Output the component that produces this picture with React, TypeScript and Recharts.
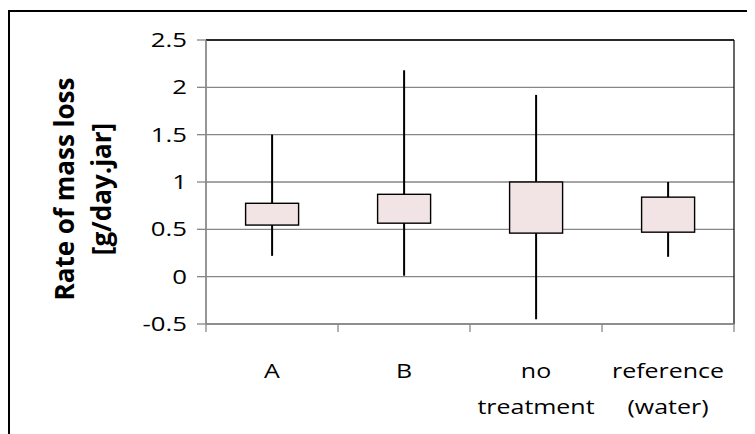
import {
  ComposedChart,
  Bar,
  XAxis,
  YAxis,
  CartesianGrid,
  ReferenceLine,
} from "recharts";

const categories = ["A", "B", "no treatment", "reference (water)"];
const mins = [0.22, 0.01, -0.45, 0.21];
const q1s = [0.545, 0.565, 0.46, 0.47];
const q3s = [0.775, 0.87, 1.0, 0.84];
const maxs = [1.5, 2.18, 1.92, 1.0];
const yTicks = [-0.5, 0, 0.5, 1, 1.5, 2, 2.5];
// category edges (whole numbers) and centres (halves)
const xTicks = [0, 0.5, 1, 1.5, 2, 2.5, 3, 3.5, 4];

const data = categories.map((name, i) => ({
  name,
  pos: i + 0.5,
  min: mins[i],
  q1: q1s[i],
  q3: q3s[i],
  max: maxs[i],
}));

const FONT = "'Open Sans', sans-serif";
const GREY = "#878787";

const YTick = (props: any) => {
  const { x, y, payload } = props;
  return (
    <g transform={`translate(${x},${y})`}>
      <line x1={10} x2={19} y1={0} y2={0} stroke={GREY} strokeWidth={1.3} />
      <text
        x={0}
        y={0}
        dy={7}
        textAnchor="end"
        fontFamily={FONT}
        fontSize={19.5}
        fill="#000"
        transform="scale(1.32,1)"
      >
        {payload.value}
      </text>
    </g>
  );
};

const XTick = (props: any) => {
  const { x, y, payload } = props;
  const v = payload.value;
  if (Number.isInteger(v)) {
    return <line x1={x} x2={x} y1={y} y2={y + 8} stroke={GREY} strokeWidth={1.3} />;
  }
  const lines = categories[Math.floor(v)].split(" ");
  return (
    <g transform={`translate(${x},${y + 54})`}>
      {lines.map((line, i) => (
        <text
          key={i}
          x={0}
          y={i * 36}
          textAnchor="middle"
          fontFamily={FONT}
          fontSize={19.5}
          fill="#000"
          transform="scale(1.28,1)"
        >
          {line}
        </text>
      ))}
    </g>
  );
};

const BoxShape = (props: any) => {
  const { x, y, width, height, payload } = props;
  const top = Math.min(y, y + height);
  const bottom = Math.max(y, y + height);
  const span = payload.max - payload.min;
  const toPx = (v: number) => bottom - ((v - payload.min) / span) * (bottom - top);
  const cx = x + width / 2;
  const boxTop = toPx(payload.q3);
  const boxBottom = toPx(payload.q1);
  return (
    <g>
      <line x1={cx} x2={cx} y1={top} y2={bottom} stroke="#000" strokeWidth={2} />
      <rect
        x={x}
        y={boxTop}
        width={width}
        height={boxBottom - boxTop}
        fill="#F2E4E4"
        stroke="#000"
        strokeWidth={1.4}
      />
    </g>
  );
};

export default function App() {
  return (
    <div style={{ position: "relative", width: 747, height: 426, overflow: "hidden" }}>
      <div
        style={{
          position: "absolute",
          left: 0,
          top: 2,
          width: 900,
          height: 600,
          borderLeft: "2px solid #000",
          borderTop: "2px solid #000",
        }}
      />
      <div style={{ position: "absolute", left: 0, top: 0 }}>
        <ComposedChart
          width={747}
          height={426}
          data={data}
          margin={{ top: 32, right: 21, left: 0, bottom: 0 }}
          barCategoryGap="30%"
        >
          <CartesianGrid vertical={false} stroke={GREY} strokeWidth={1.3} />
          <XAxis
            dataKey="pos"
            type="number"
            domain={[0, 4]}
            ticks={xTicks}
            interval={0}
            height={110}
            tickLine={false}
            tickSize={0}
            tickMargin={0}
            stroke={GREY}
            axisLine={{ stroke: GREY, strokeWidth: 1.3 }}
            tick={<XTick />}
          />
          <YAxis
            width={198}
            domain={[-0.5, 2.5]}
            ticks={yTicks}
            tickLine={false}
            tickSize={0}
            tickMargin={19}
            stroke={GREY}
            axisLine={{ stroke: GREY, strokeWidth: 1.3 }}
            tick={<YTick />}
            label={
              <g>
                <text
                  transform="translate(66,181) rotate(-90)"
                  textAnchor="middle"
                  fontFamily={FONT}
                  fontWeight="bold"
                  fontSize={26}
                  fill="#000"
                >
                  Rate of mass loss
                </text>
                <text
                  transform="translate(103,181) rotate(-90)"
                  textAnchor="middle"
                  fontFamily={FONT}
                  fontWeight="bold"
                  fontSize={26}
                  fill="#000"
                >
                  [g/day.jar]
                </text>
              </g>
            }
          />
          <ReferenceLine x={0} stroke={GREY} strokeWidth={1.3} />
          <ReferenceLine y={2.5} stroke="#000" strokeWidth={1.6} />
          <ReferenceLine x={4} stroke="#000" strokeWidth={1.2} />
          <Bar
            dataKey={(d: any) => [d.min, d.max]}
            shape={<BoxShape />}
            isAnimationActive={false}
          />
        </ComposedChart>
      </div>
    </div>
  );
}
